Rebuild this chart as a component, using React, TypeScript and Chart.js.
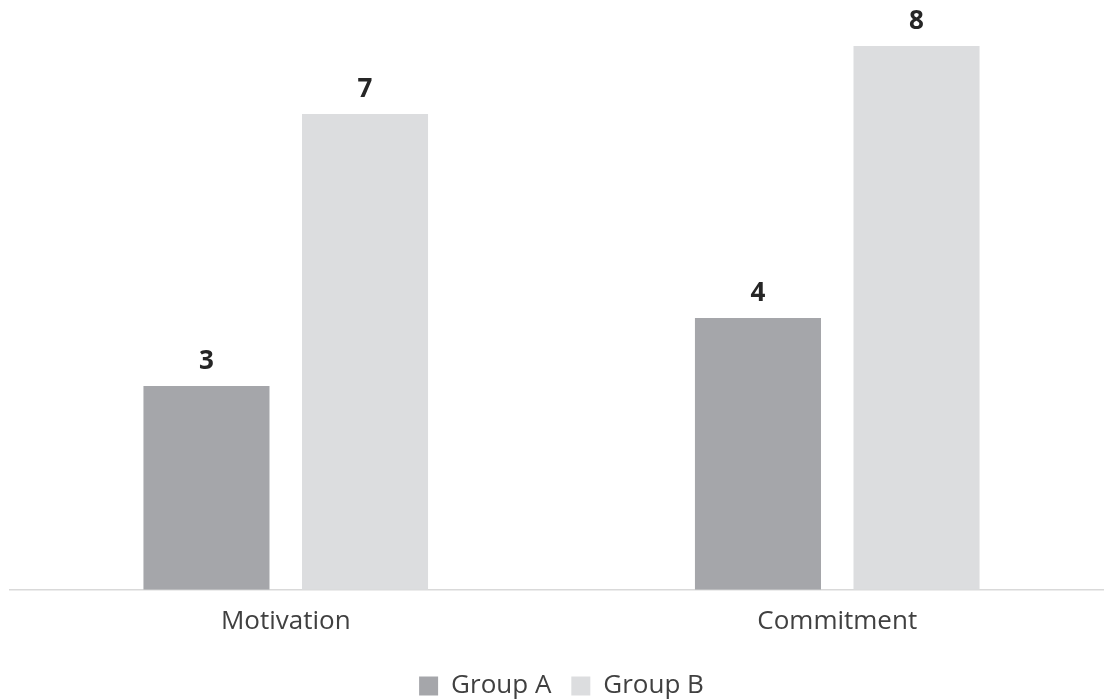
import React, { useEffect, useRef } from "react";
import { Chart, registerables } from "chart.js";

Chart.register(...registerables);

const categories = ["Motivation", "Commitment"];
const groupA = [3, 4];
const groupB = [7, 8];
const seriesNames = ["Group A", "Group B"];

const FONT = "'Open Sans', 'Noto Sans', sans-serif";

// Bold value labels drawn just above each bar
const valueLabels = {
  id: "valueLabels",
  afterDatasetsDraw(chart: any) {
    const { ctx } = chart;
    ctx.save();
    ctx.font = `bold 26px ${FONT}`;
    ctx.fillStyle = "#262626";
    ctx.textAlign = "center";
    ctx.textBaseline = "bottom";
    chart.data.datasets.forEach((ds: any, di: number) => {
      const meta = chart.getDatasetMeta(di);
      meta.data.forEach((bar: any, i: number) => {
        ctx.fillText(String(ds.data[i]), bar.x, bar.y - 11);
      });
    });
    ctx.restore();
  },
};

export default function App() {
  const ref = useRef<HTMLCanvasElement>(null);

  useEffect(() => {
    if (!ref.current) return;
    const chart = new Chart(ref.current, {
      type: "bar",
      data: {
        labels: categories,
        datasets: [
          {
            label: seriesNames[0],
            data: groupA,
            backgroundColor: "#a5a6aa",
            categoryPercentage: 0.575,
            barPercentage: 0.795,
          },
          {
            label: seriesNames[1],
            data: groupB,
            backgroundColor: "#dcdddf",
            categoryPercentage: 0.575,
            barPercentage: 0.795,
          },
        ],
      },
      options: {
        responsive: false,
        animation: false,
        layout: { padding: { top: 46, left: 10, right: 25, bottom: 0 } },
        scales: {
          x: {
            grid: { display: false, drawTicks: false },
            border: { display: true, color: "#d9d9d9", width: 1.5 },
            ticks: {
              padding: 16,
              color: "#404040",
              font: { family: FONT, size: 26 },
            },
          },
          y: {
            display: false,
            min: 0,
            max: 8,
          },
        },
        plugins: {
          tooltip: { enabled: false },
          legend: {
            position: "bottom",
            labels: {
              boxWidth: 19,
              boxHeight: 19,
              padding: 20,
              color: "#404040",
              font: { family: FONT, size: 26 },
            },
          },
        },
      },
      plugins: [valueLabels],
    });
    return () => chart.destroy();
  }, []);

  return (
    <div
      style={{
        position: "fixed",
        left: 0,
        top: 0,
        width: 1104,
        height: 700,
        overflow: "hidden",
        background: "#ffffff",
      }}
    >
      <canvas ref={ref} width={1138} height={709} />
    </div>
  );
}
